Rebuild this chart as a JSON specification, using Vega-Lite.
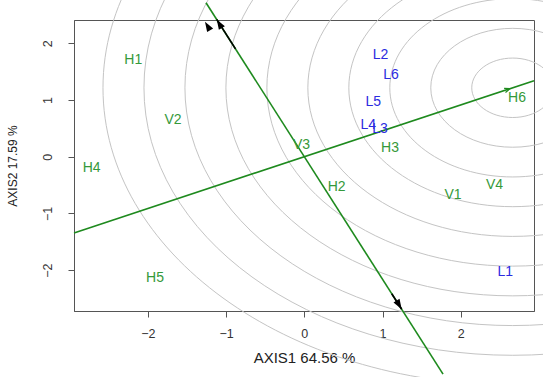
{
  "$schema": "https://vega.github.io/schema/vega-lite/v6.json",
  "width": 460,
  "height": 291,
  "autosize": {"type": "none"},
  "padding": {"left": 74, "top": 20, "right": 9, "bottom": 66},
  "background": "white",
  "config": {
    "font": "Liberation Sans",
    "view": {"stroke": "#555555", "strokeWidth": 1}
  },
  "datasets": {
    "circles": [
      {"ring": 1, "r": 0.524, "cx": 2.665, "cy": 1.215},
      {"ring": 2, "r": 1.048, "cx": 2.665, "cy": 1.215},
      {"ring": 3, "r": 1.572, "cx": 2.665, "cy": 1.215},
      {"ring": 4, "r": 2.096, "cx": 2.665, "cy": 1.215},
      {"ring": 5, "r": 2.62, "cx": 2.665, "cy": 1.215},
      {"ring": 6, "r": 3.144, "cx": 2.665, "cy": 1.215},
      {"ring": 7, "r": 3.668, "cx": 2.665, "cy": 1.215},
      {"ring": 8, "r": 4.192, "cx": 2.665, "cy": 1.215},
      {"ring": 9, "r": 4.716, "cx": 2.665, "cy": 1.215},
      {"ring": 10, "r": 5.24, "cx": 2.665, "cy": 1.215}
    ],
    "lines": [
      {"line": "a", "x": -2.945, "y": -1.343},
      {"line": "a", "x": 2.937, "y": 1.339},
      {"line": "b", "x": -1.257, "y": 2.715},
      {"line": "b", "x": 1.774, "y": -3.832}
    ],
    "arrows": [
      {"seg": "top", "x": -0.88, "y": 1.9},
      {"seg": "top", "x": -1.12, "y": 2.42},
      {"seg": "bot", "x": 1.118, "y": -2.415},
      {"seg": "bot", "x": 1.245, "y": -2.689}
    ],
    "heads": [
      {"head": "top", "x": -1.12, "y": 2.42},
      {"head": "top2", "x": -1.27, "y": 2.38},
      {"head": "bot", "x": 1.245, "y": -2.689},
      {"head": "aea", "x": 2.63, "y": 1.2}
    ],
    "labels": [
      {"name": "H1", "grp": "G", "x": -2.187, "y": 1.705},
      {"name": "V2", "grp": "G", "x": -1.679, "y": 0.647},
      {"name": "H4", "grp": "G", "x": -2.719, "y": -0.205},
      {"name": "V3", "grp": "G", "x": -0.036, "y": 0.206},
      {"name": "H2", "grp": "G", "x": 0.414, "y": -0.529},
      {"name": "H3", "grp": "G", "x": 1.096, "y": 0.159},
      {"name": "V1", "grp": "G", "x": 1.902, "y": -0.675},
      {"name": "V4", "grp": "G", "x": 2.432, "y": -0.499},
      {"name": "H6", "grp": "G", "x": 2.72, "y": 1.03},
      {"name": "H5", "grp": "G", "x": -1.909, "y": -2.145},
      {"name": "L1", "grp": "E", "x": 2.57, "y": -2.039},
      {"name": "L2", "grp": "E", "x": 0.974, "y": 1.788},
      {"name": "L6", "grp": "E", "x": 1.109, "y": 1.446},
      {"name": "L5", "grp": "E", "x": 0.882, "y": 0.959},
      {"name": "L4", "grp": "E", "x": 0.818, "y": 0.559},
      {"name": "L3", "grp": "E", "x": 0.968, "y": 0.494}
    ]
  },
  "layer": [
    {
      "data": {"name": "circles"},
      "mark": {
        "type": "point",
        "shape": "M-1,0A1,0.7254,0,1,1,1,0A1,0.7254,0,1,1,-1,0Z",
        "filled": false,
        "stroke": "#c4c4c4",
        "strokeWidth": 1,
        "opacity": 1
      },
      "encoding": {
        "x": {"field": "cx", "type": "quantitative", "scale": {"domain": [-2.945, 2.937], "nice": false, "zero": false},
          "axis": {"values": [-2, -1, 0, 1, 2], "format": "d", "grid": false, "tickSize": 6, "tickColor": "#555555", "domainColor": "#555555",
            "labelFontSize": 12.5, "labelColor": "#333333", "labelPadding": 10,
            "title": "AXIS1 64.56 %", "titleFontSize": 15, "titleFontWeight": "normal", "titleColor": "#222222", "titlePadding": 11}},
        "y": {"field": "cy", "type": "quantitative", "scale": {"domain": [-2.72, 2.41], "nice": false, "zero": false},
          "axis": {"values": [-2, -1, 0, 1, 2], "format": "d", "grid": false, "tickSize": 6, "tickColor": "#555555", "domainColor": "#555555",
            "labelFontSize": 12.5, "labelColor": "#333333", "labelAngle": -90, "labelAlign": "center", "labelBaseline": "bottom", "labelPadding": 14,
            "title": "AXIS2 17.59 %", "titleFontSize": 12, "titleFontWeight": "normal", "titleColor": "#222222", "titlePadding": 22}},
        "size": {"field": "r", "type": "quantitative", "scale": {"type": "pow", "exponent": 2, "domain": [0, 5.24], "range": [0, 671580]}, "legend": null}
      }
    },
    {
      "mark": {"type": "rule", "strokeDash": [1, 2], "color": "#777777", "strokeWidth": 1},
      "encoding": {"x": {"datum": 0, "type": "quantitative", "scale": {"domain": [-2.945, 2.937], "nice": false, "zero": false}}}
    },
    {
      "mark": {"type": "rule", "strokeDash": [1, 2], "color": "#777777", "strokeWidth": 1},
      "encoding": {"y": {"datum": 0, "type": "quantitative", "scale": {"domain": [-2.72, 2.41], "nice": false, "zero": false}}}
    },
    {
      "data": {"name": "lines"},
      "mark": {"type": "line", "color": "#1e8a1e", "strokeWidth": 1.6},
      "encoding": {
        "x": {"field": "x", "type": "quantitative", "scale": {"domain": [-2.945, 2.937], "nice": false, "zero": false}},
        "y": {"field": "y", "type": "quantitative", "scale": {"domain": [-2.72, 2.41], "nice": false, "zero": false}},
        "detail": {"field": "line"}
      }
    },
    {
      "data": {"name": "arrows"},
      "mark": {"type": "line", "color": "#000000", "strokeWidth": 1.6},
      "encoding": {
        "x": {"field": "x", "type": "quantitative", "scale": {"domain": [-2.945, 2.937], "nice": false, "zero": false}},
        "y": {"field": "y", "type": "quantitative", "scale": {"domain": [-2.72, 2.41], "nice": false, "zero": false}},
        "detail": {"field": "seg"}
      }
    },
    {
      "data": {"name": "heads"},
      "transform": [{"filter": "datum.head === 'top' || datum.head === 'top2'"}],
      "mark": {"type": "point", "shape": "M0,0L-0.7,2L0.7,2Z", "filled": true, "color": "#000000", "size": 100, "angle": 329, "opacity": 1},
      "encoding": {
        "x": {"field": "x", "type": "quantitative", "scale": {"domain": [-2.945, 2.937], "nice": false, "zero": false}},
        "y": {"field": "y", "type": "quantitative", "scale": {"domain": [-2.72, 2.41], "nice": false, "zero": false}}
      }
    },
    {
      "data": {"name": "heads"},
      "transform": [{"filter": "datum.head === 'bot'"}],
      "mark": {"type": "point", "shape": "M0,0L-0.7,2L0.7,2Z", "filled": true, "color": "#000000", "size": 100, "angle": 149, "opacity": 1},
      "encoding": {
        "x": {"field": "x", "type": "quantitative", "scale": {"domain": [-2.945, 2.937], "nice": false, "zero": false}},
        "y": {"field": "y", "type": "quantitative", "scale": {"domain": [-2.72, 2.41], "nice": false, "zero": false}}
      }
    },
    {
      "data": {"name": "heads"},
      "transform": [{"filter": "datum.head === 'aea'"}],
      "mark": {"type": "point", "shape": "M-0.8,2L0,0L0.8,2", "filled": false, "stroke": "#1e8a1e", "strokeWidth": 1.2, "size": 30, "angle": 71.7, "opacity": 1},
      "encoding": {
        "x": {"field": "x", "type": "quantitative", "scale": {"domain": [-2.945, 2.937], "nice": false, "zero": false}},
        "y": {"field": "y", "type": "quantitative", "scale": {"domain": [-2.72, 2.41], "nice": false, "zero": false}}
      }
    },
    {
      "data": {"name": "labels"},
      "mark": {"type": "text", "fontSize": 14, "align": "center", "baseline": "middle"},
      "encoding": {
        "x": {"field": "x", "type": "quantitative", "scale": {"domain": [-2.945, 2.937], "nice": false, "zero": false}},
        "y": {"field": "y", "type": "quantitative", "scale": {"domain": [-2.72, 2.41], "nice": false, "zero": false}},
        "text": {"field": "name"},
        "color": {"field": "grp", "type": "nominal", "scale": {"domain": ["G", "E"], "range": ["#35993a", "#2b2be0"]}, "legend": null}
      }
    }
  ]
}
